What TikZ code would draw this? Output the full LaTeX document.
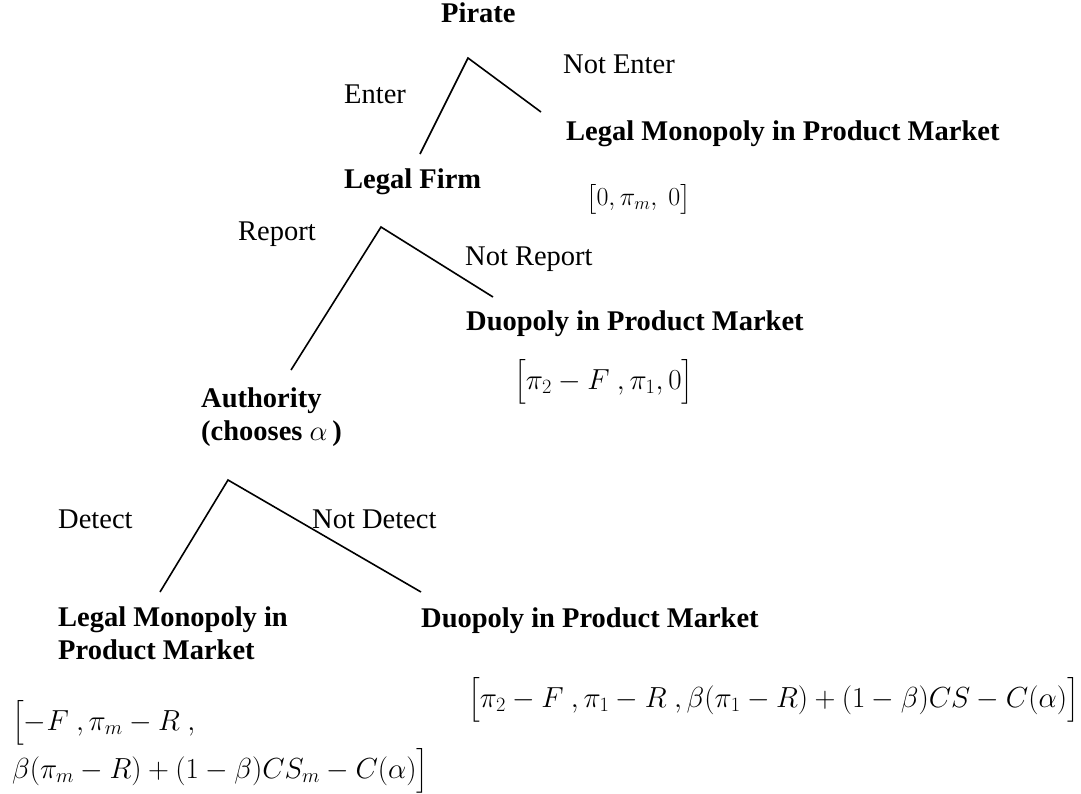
\RequirePackage{fix-cm}
\documentclass[tikz,border=0pt]{standalone}
\usepackage{amsmath}
\usepackage{fontspec}
\setmainfont{Liberation Serif}
\usetikzlibrary{positioning}
\tikzset{
  player/.style={font=\fontsize{28.5}{33}\selectfont\bfseries, anchor=base west, inner sep=0pt, align=left},
  act/.style={font=\fontsize{28.5}{33}\selectfont, anchor=base west, inner sep=0pt},
  pay/.style={font=\fontsize{29}{48}\selectfont, anchor=west, inner sep=0pt, align=left},
  br/.style={line width=1.6pt}
}
\begin{document}
\begin{tikzpicture}[x=1pt, y=-1pt]
  \useasboundingbox (0,0) rectangle (1081,793);

  % decision points and branch ends
  \coordinate (pirate) at (468,58);
  \coordinate (enterEnd) at (420,154);
  \coordinate (notEnterEnd) at (541,112);
  \coordinate (firm) at (381,227);
  \coordinate (reportEnd) at (291,370);
  \coordinate (notReportEnd) at (493,297);
  \coordinate (auth) at (228,480);
  \coordinate (detectEnd) at (160,592);
  \coordinate (notDetectEnd) at (421,592);

  % players and outcomes
  \node[player] (pirateLbl) at (441,22) {Pirate};
  \node[player] (firmLbl) at (344,188) {Legal Firm};
  \node[player] (authLbl) at (201,440) {Authority\\(chooses $\alpha$\,)};
  \node[player] (monoTop) at (566,140) {Legal Monopoly in Product Market};
  \node[player] (duoMid) at (466,330) {Duopoly in Product Market};
  \node[player] (monoLow) at (58,659) {Legal Monopoly in\\Product Market};
  \node[player] (duoLow) at (421,627) {Duopoly in Product Market};

  % actions
  \node[act] (enter) at (344,103) {Enter};
  \node[act] (notEnter) at (563,73) {Not Enter};
  \node[act] (report) at (238,240) {Report};
  \node[act] (notReport) at (465,265) {Not Report};
  \node[act] (detect) at (58,528) {Detect};
  \node[act] (notDetect) at (312,528) {Not Detect};

  % payoffs
  \node[pay, font=\fontsize{26}{30}\selectfont] (payMono) at (586,199) {$\bigl[0,\pi_m,\ 0\bigr]$};
  \node[pay] (payDuo) at (514,382) {$\bigl[\pi_2-F\ ,\pi_1,0\bigr]$};
  \node[pay] (payDuoLow) at (468,700)
    {$\bigl[\pi_2-F\ ,\pi_1-R\ ,\beta(\pi_1-R)+(1-\beta)CS-C(\alpha)\bigr]$};
  \node[pay, anchor=base west] (payMonoLow) at (12,778)
    {$\bigl[-F\ ,\pi_m-R\ ,$\\$\beta(\pi_m-R)+(1-\beta)CS_m-C(\alpha)\bigr]$};

  % branches
  \draw[br] (enterEnd) -- (pirate) -- (notEnterEnd);
  \draw[br] (reportEnd) -- (firm) -- (notReportEnd);
  \draw[br] (detectEnd) -- (auth) -- (notDetectEnd);
\end{tikzpicture}
\end{document}
